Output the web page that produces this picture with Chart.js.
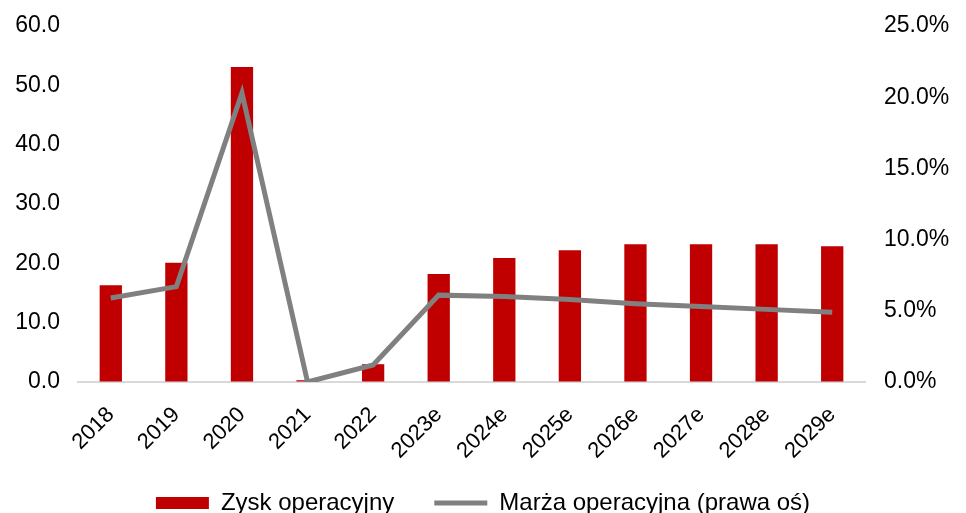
<!DOCTYPE html>
<html>
<head>
<meta charset="utf-8">
<script src="https://cdn.jsdelivr.net/npm/chart.js@4"></script>
<style>
  html, body { margin: 0; padding: 0; background: #fff; }
  #wrap { width: 966px; height: 513px; }
</style>
</head>
<body>
<div id="wrap"><canvas id="myChart" width="966" height="513"></canvas></div>
<script>
// years on the x axis
const years = ['2018', '2019', '2020', '2021', '2022', '2023e', '2024e', '2025e', '2026e', '2027e', '2028e', '2029e'];
// operating profit (left axis)
const operatingProfit = [16.3, 20.1, 53.1, 0.3, 3.0, 18.2, 20.9, 22.2, 23.2, 23.2, 23.2, 22.9];
// operating margin in % (right axis)
const operatingMargin = [5.9, 6.7, 20.3, 0.0, 1.2, 6.1, 6.0, 5.8, 5.5, 5.3, 5.1, 4.9];

const fontFamily = '"Liberation Sans", Arial, sans-serif';

// invisible tick marks so the labels sit away from the plot without extra top padding
const hiddenTicks = { display: true, drawOnChartArea: false, tickLength: 12, tickColor: 'rgba(0,0,0,0)' };

const chart = new Chart(document.getElementById('myChart'), {
  data: {
    labels: years,
    datasets: [
      {
        type: 'line',
        label: 'Marża operacyjna (prawa oś)',
        data: operatingMargin,
        yAxisID: 'y1',
        borderColor: '#808080',
        backgroundColor: '#808080',
        borderWidth: 5,
        pointRadius: 0,
        tension: 0,
        pointStyle: 'line',
        order: 1
      },
      {
        type: 'bar',
        label: 'Zysk operacyjny',
        data: operatingProfit,
        yAxisID: 'y',
        backgroundColor: '#C00000',
        barPercentage: 0.34,
        categoryPercentage: 1,
        pointStyle: 'rect',
        order: 2
      }
    ]
  },
  options: {
    responsive: false,
    animation: false,
    layout: { padding: { top: 26, bottom: -12, left: 0, right: 0 } },
    plugins: {
      tooltip: { enabled: false },
      legend: {
        position: 'bottom',
        reverse: true,
        labels: {
          usePointStyle: true,
          pointStyleWidth: 53,
          boxHeight: 12,
          padding: 40,
          color: '#000',
          font: { family: fontFamily, size: 24 }
        }
      }
    },
    scales: {
      x: {
        grid: { display: false },
        border: { color: '#d9d9d9', width: 2 },
        ticks: {
          color: '#000',
          minRotation: 45,
          maxRotation: 45,
          padding: 12,
          font: { family: fontFamily, size: 22 }
        },
        afterFit: s => {
          s.height = 69;
          // rotated labels reach into the legend area, don't clip them
          s._computeLabelArea = () => null;
        }
      },
      y: {
        position: 'left',
        min: 0,
        max: 60,
        grid: hiddenTicks,
        border: { display: false },
        ticks: {
          stepSize: 10,
          color: '#000',
          padding: 6,
          font: { family: fontFamily, size: 23 },
          callback: v => v.toFixed(1)
        },
        afterFit: s => { s.width = 78; }
      },
      y1: {
        position: 'right',
        min: 0,
        max: 25,
        grid: hiddenTicks,
        border: { display: false },
        ticks: {
          stepSize: 5,
          color: '#000',
          padding: 7,
          font: { family: fontFamily, size: 23 },
          callback: v => v.toFixed(1) + '%'
        },
        afterFit: s => { s.width = 101; }
      }
    }
  }
});
</script>
</body>
</html>
